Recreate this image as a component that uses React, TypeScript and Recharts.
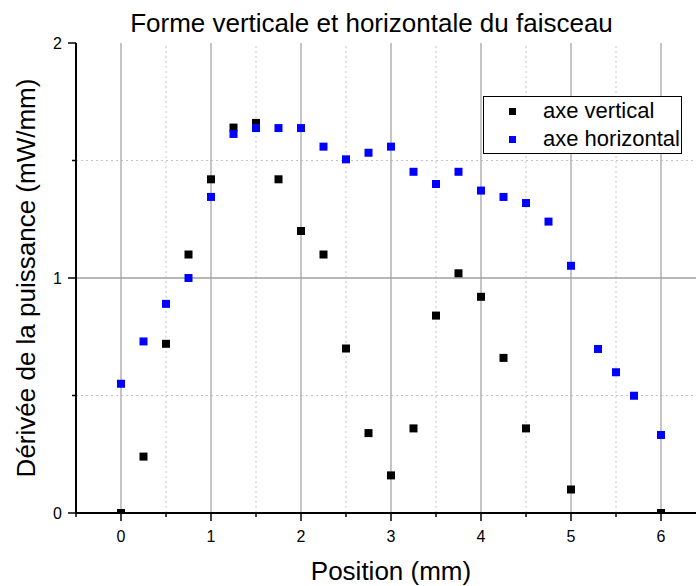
import React from 'react';
import { ScatterChart, Scatter, XAxis, YAxis, ReferenceLine, Legend } from 'recharts';

// positions (mm) and measured values (mW/mm)
const verticalX = [0, 0.25, 0.5, 0.75, 1, 1.25, 1.5, 1.75, 2, 2.25, 2.5, 2.75, 3, 3.25, 3.5, 3.75, 4, 4.25, 4.5, 5, 6];
const verticalY = [0, 0.24, 0.72, 1.1, 1.42, 1.64, 1.66, 1.42, 1.2, 1.1, 0.7, 0.34, 0.16, 0.36, 0.84, 1.02, 0.92, 0.66, 0.36, 0.1, 0];

const horizontalX = [0, 0.25, 0.5, 0.75, 1, 1.25, 1.5, 1.75, 2, 2.25, 2.5, 2.75, 3, 3.25, 3.5, 3.75, 4, 4.25, 4.5, 4.75, 5, 5.3, 5.5, 5.7, 6];
const horizontalY = [0.55, 0.73, 0.89, 1.0, 1.345, 1.613, 1.638, 1.638, 1.638, 1.559, 1.505, 1.533, 1.559, 1.452, 1.4, 1.452, 1.372, 1.345, 1.319, 1.24, 1.052, 0.698, 0.599, 0.499, 0.332];

const seriesNames = ['axe vertical', 'axe horizontal'];

const xTicks = [-0.5, 0, 0.5, 1, 1.5, 2, 2.5, 3, 3.5, 4, 4.5, 5, 5.5, 6, 6.5];
const yTicks = [0, 0.5, 1, 1.5, 2];
const xMajorGrid = [0, 1, 2, 3, 4, 5, 6];
const xMinorGrid = [0.5, 1.5, 2.5, 3.5, 4.5, 5.5];
const yMajorGrid = [1];
const yMinorGrid = [0.5, 1.5];

const verticalData = verticalX.map((x, i) => ({ x, y: verticalY[i] }));
const horizontalData = horizontalX.map((x, i) => ({ x, y: horizontalY[i] }));

const FONT = '"Liberation Sans", Arial, sans-serif';

const square = (color: string) => (props: any) => {
  const { cx, cy } = props;
  return <rect x={cx - 4} y={cy - 4} width={8} height={8} fill={color} />;
};

const XTick = (props: any) => {
  const { x, y, payload } = props;
  const v = payload.value;
  const major = Number.isInteger(v);
  return (
    <g>
      <line x1={x} y1={y} x2={x} y2={y + (major ? 8 : 4)} stroke="#000" strokeWidth={1.5} />
      {major && (
        <text x={x} y={y + 29} textAnchor="middle" fontSize={16} fontFamily={FONT} fill="#000">
          {v}
        </text>
      )}
    </g>
  );
};

const YTick = (props: any) => {
  const { x, y, payload } = props;
  const v = payload.value;
  const major = Number.isInteger(v);
  return (
    <g>
      <line x1={x} y1={y} x2={x - (major ? 8 : 4)} y2={y} stroke="#000" strokeWidth={1.5} />
      {major && (
        <text x={x - 14} y={y} dy="0.36em" textAnchor="end" fontSize={16} fontFamily={FONT} fill="#000">
          {v}
        </text>
      )}
    </g>
  );
};

const LegendBox = ({ payload }: any) => {
  const items = [...(payload || [])].sort(
    (a: any, b: any) => seriesNames.indexOf(a.value) - seriesNames.indexOf(b.value)
  );
  return (
    <div
      style={{
        width: 199,
        height: 58,
        boxSizing: 'border-box',
        border: '1px solid #000',
        background: '#fff',
        position: 'relative',
        fontFamily: FONT,
      }}
    >
      {items.map((p: any, i: number) => (
        <div
          key={p.value}
          style={{ position: 'absolute', left: 0, top: i * 28, height: 28, display: 'flex', alignItems: 'center' }}
        >
          <span style={{ display: 'inline-block', width: 7, height: 7, background: p.color, marginLeft: 25 }} />
          <span style={{ marginLeft: 27, fontSize: 22, color: '#000', lineHeight: '28px' }}>{p.value}</span>
        </div>
      ))}
    </div>
  );
};

export default function App() {
  return (
    <div
      style={{
        position: 'absolute',
        left: 0,
        top: 0,
        width: 696,
        height: 586,
        overflow: 'hidden',
        background: '#fff',
        fontFamily: FONT,
      }}
    >
      <ScatterChart width={706} height={586} margin={{ top: 43, right: 0, bottom: 0, left: 0 }}>
        {xMinorGrid.map((v) => (
          <ReferenceLine key={'xm' + v} x={v} stroke="#c4c4c4" strokeDasharray="2 3" strokeWidth={1} />
        ))}
        {yMinorGrid.map((v) => (
          <ReferenceLine key={'ym' + v} y={v} stroke="#c4c4c4" strokeDasharray="2 3" strokeWidth={1} />
        ))}
        {xMajorGrid.map((v) => (
          <ReferenceLine key={'xM' + v} x={v} stroke="#b0b0b0" strokeWidth={1.5} />
        ))}
        {yMajorGrid.map((v) => (
          <ReferenceLine key={'yM' + v} y={v} stroke="#a0a0a0" strokeWidth={1.5} />
        ))}
        <XAxis
          type="number"
          dataKey="x"
          domain={[-0.5, 6.5]}
          ticks={xTicks}
          interval={0}
          height={73}
          tickSize={0}
          tickMargin={0}
          tickLine={false}
          tick={<XTick />}
          axisLine={{ stroke: '#000', strokeWidth: 2 }}
          label={(p: any) => {
            const vb = p.viewBox || { x: 76, y: 513, width: 630 };
            return (
              <text x={vb.x + vb.width / 2} y={vb.y + 67} textAnchor="middle" fontSize={26} fontFamily={FONT} fill="#000">
                Position (mm)
              </text>
            );
          }}
        />
        <YAxis
          type="number"
          dataKey="y"
          domain={[0, 2]}
          allowDataOverflow
          ticks={yTicks}
          interval={0}
          width={76}
          tickSize={0}
          tickMargin={0}
          tickLine={false}
          tick={<YTick />}
          axisLine={{ stroke: '#000', strokeWidth: 2 }}
          label={(p: any) => {
            const vb = p.viewBox || { x: 0, y: 43, height: 470 };
            const cy = vb.y + vb.height / 2;
            return (
              <text
                x={35}
                y={cy}
                transform={`rotate(-90, 35, ${cy})`}
                textAnchor="middle"
                fontSize={26}
                fontFamily={FONT}
                fill="#000"
              >
                Dérivée de la puissance (mW/mm)
              </text>
            );
          }}
        />
        <Legend
          layout="horizontal"
          verticalAlign="middle"
          align="center"
          content={<LegendBox />}
          wrapperStyle={{ position: 'absolute', left: 483, top: 96, width: 199, height: 58 }}
        />
        <Scatter
          name={seriesNames[0]}
          data={verticalData}
          fill="#000000"
          shape={square('#000000')}
          isAnimationActive={false}
        />
        <Scatter
          name={seriesNames[1]}
          data={horizontalData}
          fill="#0000ff"
          shape={square('#0000ff')}
          isAnimationActive={false}
        />
      </ScatterChart>
      <svg
        width={696}
        height={40}
        style={{ position: 'absolute', left: 0, top: 0, pointerEvents: 'none' }}
      >
        <text x={371.5} y={32} textAnchor="middle" fontSize={26} fontFamily={FONT} fill="#000">
          Forme verticale et horizontale du faisceau
        </text>
      </svg>
    </div>
  );
}
